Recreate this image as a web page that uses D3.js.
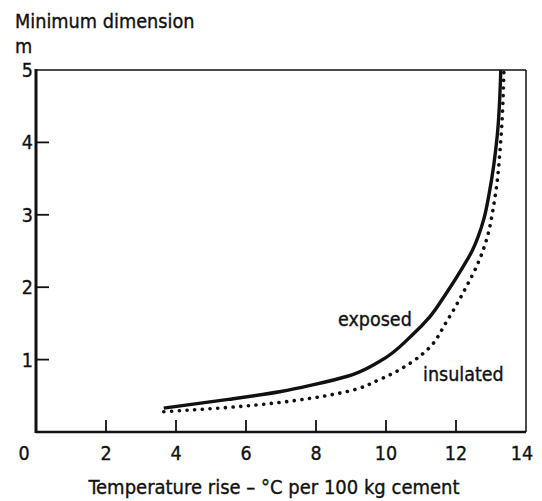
<!DOCTYPE html>
<html>
<head>
<meta charset="utf-8">
<script src="https://cdn.jsdelivr.net/npm/d3@7"></script>
<style>
  body { margin: 0; background: #fff; }
  text { font-family: "DejaVu Sans Condensed", "Liberation Sans", Arial, sans-serif; fill: #111; stroke: #111; stroke-width: 0.35px; }
</style>
</head>
<body>
<svg width="542" height="501"></svg>
<script>
// exposed concrete (solid line)
var exposedTemp = [3.65, 5.5, 7.0, 7.9, 8.9, 9.8, 10.75, 11.25, 11.7, 12.2, 12.47, 12.62, 12.8, 12.95, 13.18, 13.28];
var exposedDim  = [0.33, 0.45, 0.56, 0.65, 0.77, 0.97, 1.34, 1.59, 1.90, 2.28, 2.51, 2.68, 2.95, 3.3, 4.1, 5.0];
// insulated concrete (dotted line)
var insulatedTemp = [3.65, 5.5, 7.0, 7.9, 8.9, 9.8, 10.75, 11.25, 11.7, 12.2, 12.67, 12.85, 13.1, 13.29, 13.37];
var insulatedDim  = [0.28, 0.34, 0.41, 0.47, 0.56, 0.72, 0.97, 1.17, 1.50, 1.92, 2.38, 2.62, 3.2, 4.1, 5.0];

var xTicks = [0, 2, 4, 6, 8, 10, 12, 14];
var yTicks = [1, 2, 3, 4, 5];

var svg = d3.select('svg');
var x = d3.scaleLinear().domain([0, 14]).range([36, 526]);
var y = d3.scaleLinear().domain([0, 5]).range([432, 70]);

// frame: thin top/right, heavier left/bottom
svg.append('line').attr('x1', x(0)).attr('x2', x(14)).attr('y1', y(5)).attr('y2', y(5))
  .attr('stroke', '#111').attr('stroke-width', 1.5);
svg.append('line').attr('x1', x(14)).attr('x2', x(14)).attr('y1', y(5)).attr('y2', y(0))
  .attr('stroke', '#111').attr('stroke-width', 1.5);
svg.append('line').attr('x1', x(0)).attr('x2', x(14)).attr('y1', y(0)).attr('y2', y(0))
  .attr('stroke', '#111').attr('stroke-width', 2.5);
svg.append('line').attr('x1', x(0)).attr('x2', x(0)).attr('y1', y(5) - 1).attr('y2', y(0) + 1)
  .attr('stroke', '#111').attr('stroke-width', 3);

// inner ticks
svg.selectAll('.xt').data(xTicks.filter(function(d){ return d > 0 && d < 14 }))
  .enter().append('line')
  .attr('x1', function(d){ return x(d) }).attr('x2', function(d){ return x(d) })
  .attr('y1', y(0)).attr('y2', y(0) - 12)
  .attr('stroke', '#111').attr('stroke-width', 1.8);
svg.selectAll('.yt').data(yTicks.filter(function(d){ return d < 5 }))
  .enter().append('line')
  .attr('x1', x(0)).attr('x2', x(0) + 13)
  .attr('y1', function(d){ return y(d) }).attr('y2', function(d){ return y(d) })
  .attr('stroke', '#111').attr('stroke-width', 1.8);

// tick labels
svg.selectAll('.xl').data(xTicks).enter().append('text')
  .attr('x', function(d){ return x(d) + (d == 0 ? -12 : d == 14 ? -4 : 0) })
  .attr('y', 460)
  .attr('text-anchor', 'middle')
  .style('font-size', '19.5px')
  .text(function(d){ return d });
svg.selectAll('.yl').data(yTicks).enter().append('text')
  .attr('x', 33)
  .attr('y', function(d){ return y(d) + 7 })
  .attr('text-anchor', 'end')
  .style('font-size', '19.5px')
  .text(function(d){ return d });

// titles
svg.append('text').attr('x', 15).attr('y', 28).style('font-size', '19.7px').text('Minimum dimension');
svg.append('text').attr('x', 15).attr('y', 53).style('font-size', '19.7px').text('m');
svg.append('text').attr('x', 274).attr('y', 494).attr('text-anchor', 'middle')
  .style('font-size', '20px').text('Temperature rise – °C per 100 kg cement');

// curves
var line = d3.line()
  .x(function(d){ return x(d[0]) })
  .y(function(d){ return y(d[1]) })
  .curve(d3.curveMonotoneY);

svg.append('path')
  .datum(d3.zip(insulatedTemp, insulatedDim))
  .attr('d', line)
  .attr('fill', 'none').attr('stroke', '#111')
  .attr('stroke-width', 3.6).attr('stroke-linecap', 'round')
  .attr('stroke-dasharray', '0.1 7.6');

svg.append('path')
  .datum(d3.zip(exposedTemp, exposedDim))
  .attr('d', line)
  .attr('fill', 'none').attr('stroke', '#111')
  .attr('stroke-width', 3.4);

// curve labels
svg.append('text').attr('x', 338).attr('y', 326).style('font-size', '19.5px').text('exposed');
svg.append('text').attr('x', 423).attr('y', 381).style('font-size', '19.5px').text('insulated');
</script>
</body>
</html>
